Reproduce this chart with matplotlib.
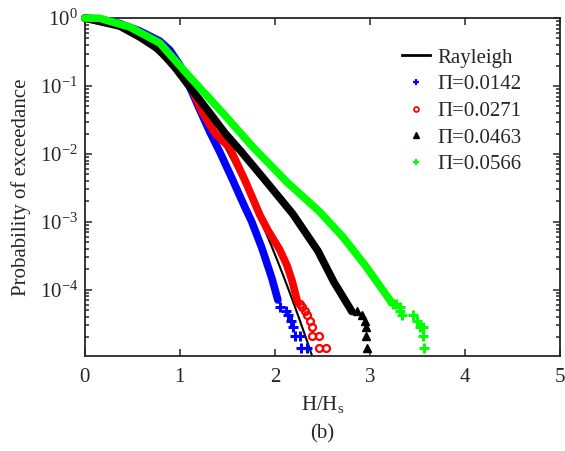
import numpy as np
import matplotlib
matplotlib.use("Agg")
import matplotlib.pyplot as plt
from matplotlib.lines import Line2D
from matplotlib.ticker import LogLocator, NullFormatter

plt.rcParams['font.family'] = ['Liberation Serif', 'DejaVu Serif']
plt.rcParams['mathtext.fontset'] = 'custom'
plt.rcParams['mathtext.rm'] = 'Liberation Serif'
plt.rcParams['mathtext.it'] = 'Liberation Serif:italic'
plt.rcParams['axes.unicode_minus'] = False
plt.rcParams['font.size'] = 15

# ---- data (H/Hs, exceedance probability) ----
labels = ['Π=0.0142', 'Π=0.0271', 'Π=0.0463', 'Π=0.0566']
colors = ['#0000ff', '#ff0000', '#000000', '#00ff00']

# dense part of each curve
h_blue = [0, 0.158, 0.368, 0.579, 0.789, 0.895, 1.0, 1.105, 1.211, 1.316,
          1.421, 1.547, 1.684, 1.758, 1.863, 1.968, 2.032]
p_blue = [1.0, 0.967, 0.83, 0.644, 0.459, 0.338, 0.204, 0.0967, 0.0444, 0.0211,
          0.0107, 0.00444, 0.00166, 0.001, 4.15e-4, 1.5e-4, 7.1e-5]

h_red = [0, 0.368, 0.579, 0.789, 1.0, 1.105, 1.242, 1.368, 1.526, 1.684,
         1.842, 1.926, 2.053, 2.126, 2.179, 2.242]
p_red = [1.0, 0.79, 0.60, 0.40, 0.184, 0.103, 0.040, 0.0204, 0.01225, 0.00415,
         0.00127, 7.6e-4, 3.87e-4, 2.33e-4, 1.4e-4, 6.4e-5]

h_black = [0, 0.368, 0.579, 0.789, 0.947, 1.105, 1.316, 1.474, 1.632, 1.895,
           2.189, 2.453, 2.621, 2.737, 2.811]
p_black = [1.0, 0.762, 0.525, 0.339, 0.19, 0.0967, 0.040, 0.0204, 0.01145, 0.00415,
           0.00131, 3.75e-4, 1.31e-4, 7.1e-5, 4.8e-5]

h_green = [0, 0.158, 0.474, 0.789, 1.105, 1.211, 1.453, 1.768, 2.126, 2.474,
           2.716, 2.947, 3.158, 3.232]
p_green = [1.0, 0.99, 0.738, 0.429, 0.136, 0.0935, 0.040, 0.0127, 0.00387, 0.0014,
           6.0e-4, 2.33e-4, 9.0e-5, 6.4e-5]

# sparse tail points
ht_blue = [2.05, 2.12, 2.14, 2.17, 2.19, 2.21, 2.26, 2.28, 2.34]
pt_blue = [5.6e-5, 4.9e-5, 4.2e-5, 3.5e-5, 2.8e-5, 2.1e-5, 2.1e-5, 1.4e-5, 1.4e-5]

ht_red = [2.26, 2.29, 2.32, 2.34, 2.37, 2.39, 2.39, 2.47, 2.47, 2.54]
pt_red = [6.3e-5, 5.6e-5, 4.9e-5, 4.2e-5, 3.5e-5, 2.8e-5, 2.1e-5, 2.1e-5, 1.4e-5, 1.4e-5]

ht_black = [2.86, 2.92, 2.95, 2.96, 2.96, 2.97]
pt_black = [4.9e-5, 4.2e-5, 3.5e-5, 2.8e-5, 2.1e-5, 1.4e-5]

ht_green = [3.24, 3.27, 3.32, 3.32, 3.34, 3.45, 3.50, 3.53, 3.56, 3.56, 3.57]
pt_green = [6.3e-5, 6.3e-5, 5.6e-5, 4.9e-5, 4.2e-5, 4.2e-5, 3.5e-5, 2.8e-5, 2.8e-5, 2.1e-5, 1.4e-5]

# Rayleigh distribution
h_ray = np.linspace(0, 2.45, 300)
p_ray = np.exp(-2 * h_ray ** 2)

fig = plt.figure(figsize=(5.65, 4.51), dpi=100)
ax = fig.add_axes([0.150, 0.211, 0.841, 0.749])

ax.plot(h_ray, p_ray, color='black', lw=1.5, zorder=2)

bodies = [(h_blue, p_blue), (h_red, p_red), (h_black, p_black), (h_green, p_green)]
tails = [(ht_blue, pt_blue), (ht_red, pt_red), (ht_black, pt_black), (ht_green, pt_green)]
markers = ['+', 'o', '^', '+']

for i in range(4):
    hb, pb = bodies[i]
    ax.plot(hb, pb, color=colors[i], lw=5.5, solid_capstyle='round',
            solid_joinstyle='round', zorder=3 + i, clip_on=False)
    ht, pt = tails[i]
    if markers[i] == 'o':
        ax.plot(ht, pt, ls='none', marker='o', ms=5, mfc='none', mec=colors[i],
                mew=1.6, zorder=3 + i)
    elif markers[i] == '^':
        ax.plot(ht, pt, ls='none', marker='^', ms=6, color=colors[i], zorder=3 + i)
    else:
        ax.plot(ht, pt, ls='none', marker='+', ms=7, mew=2.2, color=colors[i], zorder=3 + i)

ax.set_yscale('log')
ax.set_xlim(0, 5)
ax.set_ylim(1.07e-5, 1)
ax.set_xticks([0, 1, 2, 3, 4, 5])
ax.yaxis.set_major_locator(LogLocator(base=10, numticks=10))
ax.yaxis.set_minor_locator(LogLocator(base=10, subs=np.arange(2, 10), numticks=20))
ax.yaxis.set_minor_formatter(NullFormatter())

dark = '#262626'
for s in ax.spines.values():
    s.set_linewidth(1.3)
    s.set_color(dark)
ax.tick_params(which='both', direction='in', top=True, right=True, colors=dark,
               labelsize=15, width=1.1)
ax.tick_params(which='major', length=5)
ax.tick_params(which='minor', length=3)
ax.tick_params(axis='x', which='major', pad=9)
ax.tick_params(axis='y', which='major', pad=5)

ax.set_xlabel(r'H/H$_{\mathdefault{s}}$', fontsize=15, color=dark, labelpad=5)
ax.set_ylabel('Probability of exceedance', fontsize=15, color=dark, labelpad=6)
fig.text(0.5 * (0.150 + 0.991), 1 - 434 / 451, '(b)', ha='center', va='center',
         fontsize=15, color=dark)

handles = [Line2D([], [], color='black', lw=2)]
handles.append(Line2D([], [], ls='none', marker='+', ms=5, mew=1.6, color=colors[0]))
handles.append(Line2D([], [], ls='none', marker='o', ms=3.5, mfc='none', mec=colors[1], mew=1.3))
handles.append(Line2D([], [], ls='none', marker='^', ms=4, color=colors[2]))
handles.append(Line2D([], [], ls='none', marker='+', ms=5, mew=1.6, color=colors[3]))
leg = ax.legend(handles, ['Rayleigh'] + labels, loc='upper left', frameon=False,
                bbox_to_anchor=(402 / 565, 1 - 48 / 451), bbox_transform=fig.transFigure,
                borderpad=0, borderaxespad=0, handlelength=1.35, handletextpad=0.35,
                labelspacing=0.34, fontsize=15)
for t in leg.get_texts():
    t.set_color(dark)

fig.savefig('out.png', dpi=100)
